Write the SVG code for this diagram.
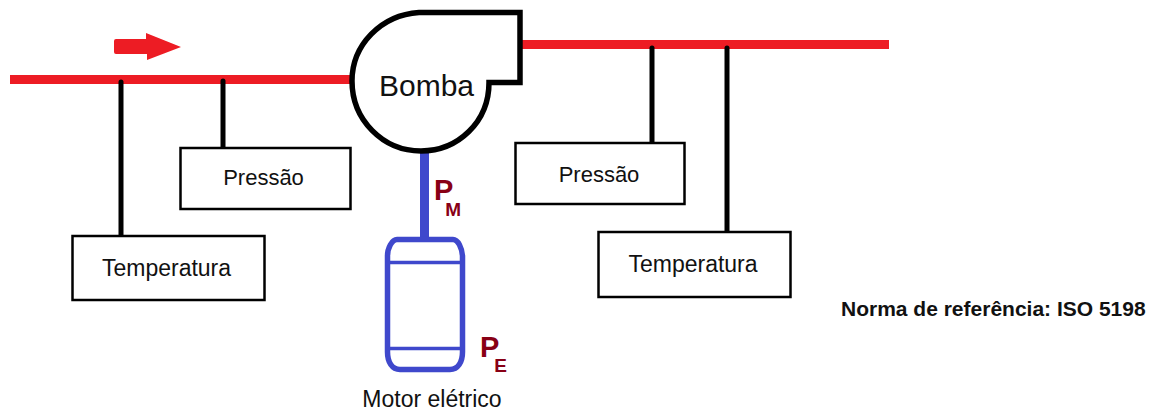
<svg xmlns="http://www.w3.org/2000/svg" width="1155" height="410" viewBox="0 0 1155 410">
<style>
.t{font-family:"Liberation Sans",Arial,sans-serif;fill:#111}
.box{fill:#fff;stroke:#000;stroke-width:2.5}
.blk{stroke:#000;stroke-width:5;fill:none;stroke-linecap:round}
.red{stroke:#ed1c24;stroke-width:9;fill:none}
.blu{stroke:#3f48cc;fill:none}
.p{font-family:"Liberation Sans",Arial,sans-serif;font-weight:bold;fill:#880015}
</style>
<rect width="1155" height="410" fill="#fff"/>
<g id="connectors">
<path class="red" d="M10 79.500H352"/>
<path class="red" d="M520 44.500H889"/>
<path class="blk" d="M121 82V236"/>
<path class="blk" d="M223 81V148"/>
<path class="blk" d="M652 48V143"/>
<path class="blk" d="M727 48V232"/>
<path class="blu" stroke-width="9" d="M424.500 152V238"/>
<path d="M116 39H146V33L181 47L147 60V54H116Q114 54 114 52V41Q114 39 116 39Z" fill="#ed1c24"/>
</g>
<g id="pressao-in"><rect class="box" x="180.500" y="148" width="170" height="61"/><text class="t" x="263.500" y="185" font-size="22" text-anchor="middle">Pressão</text></g>
<g id="temperatura-in"><rect class="box" x="72.500" y="236" width="192" height="64"/><text class="t" x="166.500" y="276" font-size="23" text-anchor="middle">Temperatura</text></g>
<g id="pressao-out"><rect class="box" x="515.500" y="143" width="169" height="61"/><text class="t" x="599" y="182" font-size="22" text-anchor="middle">Pressão</text></g>
<g id="temperatura-out"><rect class="box" x="598.500" y="232" width="192" height="65"/><text class="t" x="693" y="272" font-size="23" text-anchor="middle">Temperatura</text></g>
<g id="bomba">
<path d="M419 12.500H520V82.500H489C489 122 458 151 421 151C383 151 352 120 352 81C352 45 381 15 419 12.500Z" fill="#fff" stroke="#000" stroke-width="5.500"/>
<text class="t" x="426.500" y="96" font-size="30" text-anchor="middle">Bomba</text>
</g>
<g id="motor">
<path class="blu" d="M397 239.500H453C458 239.500 462 248 462.500 256V352C462.500 362 458 369.500 450 369.500H400C392 369.500 387.500 362 387.500 352V256C387.500 248 392 239.500 397 239.500Z" stroke-width="5.500" fill="#fff"/>
<path class="blu" stroke-width="3.500" d="M388 262.500H462M388 348.500H462"/>
<text class="t" x="432" y="407" font-size="23" text-anchor="middle">Motor elétrico</text>
</g>
<g id="labels">
<text class="p" x="434" y="200" font-size="29">P<tspan dx="-8" dy="16" font-size="19">M</tspan></text>
<text class="p" x="480" y="357" font-size="29">P<tspan dx="-5" dy="15" font-size="19">E</tspan></text>
<text x="841" y="316" font-size="21" font-weight="bold" font-family="Liberation Sans,Arial,sans-serif" fill="#111">Norma de referência: ISO 5198</text>
</g>
</svg>
